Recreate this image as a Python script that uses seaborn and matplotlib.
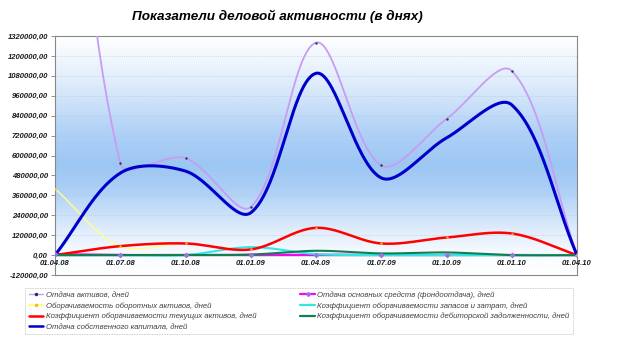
import numpy as np
import pandas as pd
import matplotlib
matplotlib.use("Agg")
import matplotlib.pyplot as plt
import seaborn as sns
from matplotlib.colors import LinearSegmentedColormap
from matplotlib.lines import Line2D

# ---- data -------------------------------------------------------------
dates = ["01.04.08", "01.07.08", "01.10.08", "01.01.09", "01.04.09",
         "01.07.09", "01.10.09", "01.01.10", "01.04.10"]

assets_return = [3900000, 554000, 584000, 290000, 1280000, 540000, 820000, 1110000, 0]
fixed_assets_return = [6000, 1000, 1000, 2000, 3000, 1500, 1500, 1000, 0]
working_capital_turnover = [400000, 54000, 70000, 34000, 164000, 70000, 106000, 130000, 0]
inventory_turnover = [0, 0, 0, 48000, 6000, 0, 0, 0, 0]
current_assets_turnover = [0, 54000, 70000, 34000, 164000, 70000, 106000, 130000, 0]
receivables_turnover = [0, 0, 0, 3000, 26000, 10000, 16000, 0, 0]
equity_return = [0, 494000, 506000, 255000, 1095000, 465000, 706000, 905000, 0]

labels = [
    "Отдача активов, дней",
    "Отдача основных средств (фондоотдача), дней",
    "Оборачиваемость оборотных активов, дней",
    "Коэффициент оборачиваемости запасов и затрат, дней",
    "Коэффициент оборачиваемости текущих активов, дней",
    "Коэффициент оборачиваемости дебиторской задолженности, дней",
    "Отдача собственного капитала, дней",
]

y_min, y_max, y_step = -120000, 1320000, 120000

# ---- figure -----------------------------------------------------------
sns.set_style("white")
plt.rcParams["font.family"] = ["Liberation Sans", "DejaVu Sans"]

W, H = 634, 338
fig = plt.figure(figsize=(W / 100, H / 100), dpi=100)
ax_l, ax_r, ax_t, ax_b = 55, 577, 36, 275
ax = fig.add_axes([ax_l / W, 1 - ax_b / H, (ax_r - ax_l) / W, (ax_b - ax_t) / H])

n = len(dates)
xs = np.arange(n)

# pixel scale of the axes, used for the smoothed curves
px_x = (ax_r - ax_l) / (n - 1)
px_y = (ax_b - ax_t) / (y_max - y_min)


def smooth(values, steps=60):
    """Bezier smoothing through every point, arms scaled by chord lengths."""
    P = np.column_stack([xs * px_x, np.asarray(values, float) * px_y])
    m = len(P)
    out = [P[0]]
    t = np.linspace(0, 1, steps)[1:, None]
    for i in range(m - 1):
        p0 = P[i - 1] if i > 0 else P[i]
        p1, p2 = P[i], P[i + 1]
        p3 = P[i + 2] if i + 2 < m else P[i + 1]
        d01 = np.linalg.norm(p1 - p0)
        d12 = np.linalg.norm(p2 - p1)
        d23 = np.linalg.norm(p3 - p2)
        c1 = p1 + (p2 - p0) * (d12 / (d01 + d12)) / 3
        c2 = p2 - (p3 - p1) * (d12 / (d12 + d23)) / 3
        seg = ((1 - t) ** 3) * p1 + 3 * ((1 - t) ** 2) * t * c1 \
            + 3 * (1 - t) * t ** 2 * c2 + t ** 3 * p2
        out.extend(seg)
    out = np.array(out)
    return pd.DataFrame({"x": out[:, 0] / px_x, "y": out[:, 1] / px_y})


# gradient background of the plot area
stops = [(0.0, (1.0, 1.0, 1.0)),
         (0.084, (0.975, 0.988, 1.0)),
         (0.2, (0.86, 0.92, 0.985)),
         (0.36, (0.67, 0.81, 0.965)),
         (0.46, (0.61, 0.78, 0.955)),
         (0.6, (0.69, 0.82, 0.965)),
         (0.8, (0.87, 0.925, 0.985)),
         (1.0, (1.0, 1.0, 1.0))]
cmap = LinearSegmentedColormap.from_list("bg", stops)
grad = np.linspace(0, 1, 256)[:, None]
ax.imshow(grad, cmap=cmap, aspect="auto", origin="lower",
          extent=[0, 1, 0, 1], transform=ax.transAxes, zorder=0)

# grid
yticks = np.arange(y_min, y_max + 1, y_step)
for v in yticks:
    ax.axhline(v, color="#b8c0cc", lw=0.5, ls=(0, (1, 2)), zorder=1)
ax.axhline(0, color="#5a6070", lw=1.0, zorder=2)

series = [
    (assets_return, "#c79cf2", 1.3),
    (fixed_assets_return, "#ff00ff", 1.5),
    (working_capital_turnover, "#ffff88", 1.0),
    (inventory_turnover, "#33e6e6", 1.5),
    (current_assets_turnover, "#ff0000", 1.8),
    (receivables_turnover, "#108050", 1.5),
    (equity_return, "#0000cc", 2.2),
]
for k, (vals, col, lw) in enumerate(series):
    sns.lineplot(data=smooth(vals), x="x", y="y", sort=False, estimator=None,
                 color=col, lw=lw, ax=ax, zorder=3 + k)

# point markers
sns.scatterplot(x=xs, y=assets_return, marker="o", s=3, color="#303060",
                linewidth=0, ax=ax, zorder=12)
sns.scatterplot(x=xs, y=fixed_assets_return, marker="D", s=9, color="#a070e0",
                linewidth=0, ax=ax, zorder=12)
sns.scatterplot(x=xs, y=working_capital_turnover, marker="o", s=3, color="#e0c040",
                linewidth=0, ax=ax, zorder=12)
ax.set_xlim(0, n - 1)
ax.set_ylim(y_min, y_max)

# axes styling
ax.set_xlabel("")
ax.set_ylabel("")
ax.set_xticks([])
ax.set_yticks(yticks)
ax.set_yticklabels([f"{v:.2f}".replace(".", ",") for v in yticks])
ax.tick_params(axis="y", length=3, width=0.6, color="#808080", pad=2,
               labelsize=5.5, labelcolor="#1a1a1a", left=True)
for lbl in ax.get_yticklabels():
    lbl.set_fontweight("bold")
    lbl.set_fontstyle("italic")
for i, d in enumerate(dates):
    ax.annotate(d, (i, 0), xytext=(0, -3.8), textcoords="offset points",
                ha="center", va="top", fontsize=5.5, fontweight="bold",
                fontstyle="italic", color="#1a1a1a", annotation_clip=False,
                zorder=20)
for sp in ax.spines.values():
    sp.set_visible(True)
    sp.set_color("#888888")
    sp.set_linewidth(0.8)

fig.text(277 / W, 1 - 16 / H, "Показатели деловой активности (в днях)",
         ha="center", va="center", fontsize=9.7, fontweight="bold",
         fontstyle="italic", color="#000000")

# legend (column-major order gives the row layout of the box)
handles = {
    0: Line2D([], [], color="#c79cf2", lw=1.0, marker="o", ms=1.5, mfc="#303060", mec="#303060"),
    1: Line2D([], [], color="#ff00ff", lw=1.6, marker="D", ms=2, mfc="#a070e0", mec="#a070e0"),
    2: Line2D([], [], color="#ffff88", lw=1.6, marker="o", ms=1.5, mfc="#e0c040", mec="#e0c040"),
    3: Line2D([], [], color="#33e6e6", lw=1.6),
    4: Line2D([], [], color="#ff0000", lw=1.8),
    5: Line2D([], [], color="#108050", lw=1.6),
    6: Line2D([], [], color="#0000cc", lw=1.8),
}
order = [0, 2, 4, 6, 1, 3, 5]
leg = fig.legend([handles[i] for i in order], [labels[i] for i in order],
                 ncol=2, loc="upper left",
                 bbox_to_anchor=(25 / W, 1 - 334 / H, 548 / W, 46 / H),
                 mode="expand", borderaxespad=0, fancybox=False, frameon=True,
                 prop={"size": 5.6, "style": "italic"}, handlelength=1.9,
                 handletextpad=0.3, labelspacing=0.37, borderpad=0.45,
                 columnspacing=1.0)
leg.get_frame().set_edgecolor("#aaaaaa")
leg.get_frame().set_linestyle((0, (1, 1)))
leg.get_frame().set_linewidth(0.6)
for txt in leg.get_texts():
    txt.set_color("#404040")

fig.savefig("out.png", dpi=100)
